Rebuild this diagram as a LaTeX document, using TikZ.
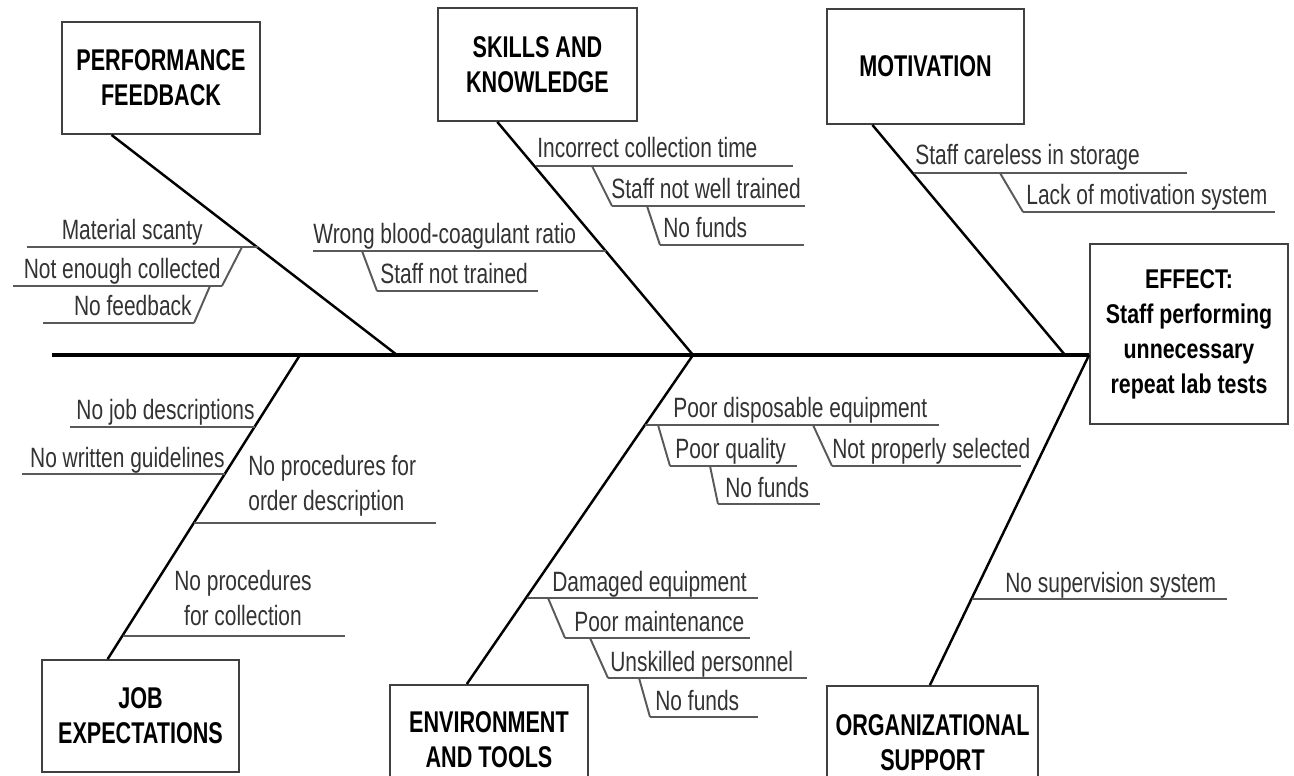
\documentclass[tikz,border=0pt]{standalone}
\usepackage{fontspec}
\setmainfont{Liberation Sans}
\newfontfamily\labfont[FakeStretch=0.75]{Liberation Sans}
\newfontfamily\boxfont[FakeStretch=0.72]{Liberation Sans}
\newfontfamily\efffont[FakeStretch=0.79]{Liberation Sans}
\usetikzlibrary{calc}
\newcommand{\twolines}[2]{\begin{tabular}[b]{@{}c@{}}#1\\#2\end{tabular}}
\tikzset{
  box/.style={draw=black!75, line width=1.1pt, align=center, inner sep=0pt,
    font=\boxfont\bfseries\fontsize{17.07pt}{19.9pt}\selectfont},
  effbox/.style={draw=black!75, line width=1.1pt, align=center, inner sep=0pt,
    font=\efffont\bfseries\fontsize{15.4pt}{19.9pt}\selectfont},
  lab/.style={font=\labfont\fontsize{15.9pt}{19.9pt}\selectfont, text=black!80, inner sep=0pt},
  sub/.style={draw=black!65, line width=1.1pt},
  bone/.style={draw=black, line width=1.4pt},
  spine/.style={draw=black, line width=1.8pt},
}
\begin{document}
\begin{tikzpicture}[x=0.02cm,y=-0.02cm]
\clip (0,0) rectangle (1294,776);
\fill[white] (0,0) rectangle (1294,776);

% boxes
\node[box, minimum width=3.96cm, minimum height=2.24cm] (pf) at (161,78) {PERFORMANCE\\FEEDBACK};
\node[box, minimum width=3.98cm, minimum height=2.26cm] (sk) at (537.5,64.5) {SKILLS AND\\KNOWLEDGE};
\node[box, minimum width=3.94cm, minimum height=2.30cm] (mot) at (925.5,66.5) {MOTIVATION};
\node[effbox, minimum width=3.96cm, minimum height=3.60cm] (eff) at (1189,334) {EFFECT:\\Staff performing\\unnecessary\\repeat lab tests};
\node[box, minimum width=3.94cm, minimum height=2.24cm] (job) at (140.5,716) {JOB\\EXPECTATIONS};
\node[box, minimum width=3.96cm, minimum height=2.20cm] (env) at (489,740) {ENVIRONMENT\\AND TOOLS};
\node[box, minimum width=4.22cm, minimum height=2.28cm] (org) at (932.5,743) {ORGANIZATIONAL\\SUPPORT};

% spine
\coordinate (tail) at (52,355);
\coordinate (head) at (tail -| eff.west);
\draw[spine] (tail) -- (head);
\coordinate (j1) at (397,355);
\coordinate (j2) at (693,355);
\coordinate (j3) at (1065,355);
\coordinate (k1) at (300,355);

% main bones
\draw[bone] ($(pf.south west)!0.2525!(pf.south east)$) -- (j1);
\draw[bone] ($(sk.south west)!0.30!(sk.south east)$) -- (j2);
\draw[bone] ($(mot.south west)!0.233!(mot.south east)$) -- (j3);
\draw[bone] (k1) -- ($(job.north west)!0.335!(job.north east)$);
\draw[bone] (j2) -- ($(env.north west)!0.389!(env.north east)$);
\draw[bone] (head) -- ($(org.north west)!0.488!(org.north east)$);

% PERFORMANCE FEEDBACK causes
\draw[sub] (27,247) -- (257.7,247);
\node[lab, anchor=base east] (t1) at (203,240) {Material scanty};
\draw[sub] (242,247) -- (222,286);
\draw[sub] (13,286) -- (222,286);
\node[lab, anchor=base east] (t2) at (221,279) {Not enough collected};
\draw[sub] (210,286) -- (194,323);
\draw[sub] (43,323) -- (194,323);
\node[lab, anchor=base east] (t3) at (192,316) {No feedback};

% SKILLS AND KNOWLEDGE causes
\draw[sub] (313,251) -- (605.5,251);
\node[lab, anchor=base west] (t4) at (313,244) {Wrong blood-coagulant ratio};
\draw[sub] (362,251) -- (377,291);
\draw[sub] (377,291) -- (538,291);
\node[lab, anchor=base west] (t5) at (380,284) {Staff not trained};
\draw[sub] (535.5,166) -- (793,166);
\node[lab, anchor=base west] (t6) at (537,158) {Incorrect collection time};
\draw[sub] (592,166) -- (612,206);
\draw[sub] (612,206) -- (805,206);
\node[lab, anchor=base west] (t7) at (611,199) {Staff not well trained};
\draw[sub] (647,206) -- (660,245);
\draw[sub] (660,245) -- (804,245);
\node[lab, anchor=base west] (t8) at (663,238) {No funds};

% MOTIVATION causes
\draw[sub] (913.7,173) -- (1187,173);
\node[lab, anchor=base west] (t9) at (915,165) {Staff careless in storage};
\draw[sub] (1000,173) -- (1023,212);
\draw[sub] (1023,212) -- (1275,212);
\node[lab, anchor=base west] (t10) at (1026,205) {Lack of motivation system};

% JOB EXPECTATIONS causes
\draw[sub] (70,427) -- (254.7,427);
\node[lab, anchor=base east] (t11) at (255,419) {No job descriptions};
\draw[sub] (22,474) -- (225.1,474);
\node[lab, anchor=base east] (t12) at (225,467) {No written guidelines};
\draw[sub] (194.2,523) -- (436,523);
\node[lab, anchor=base west] (t13) at (248,510) {\begin{tabular}[b]{@{}l@{}}No procedures for\\order description\end{tabular}};
\draw[sub] (123.1,636) -- (345,636);
\node[lab, anchor=base] (t14) at (243,625) {\twolines{No procedures}{for collection}};

% ENVIRONMENT AND TOOLS causes
\draw[sub] (645,425) -- (939,425);
\node[lab, anchor=base west] (t15) at (673,418) {Poor disposable equipment};
\draw[sub] (658,425) -- (670,466);
\draw[sub] (670,466) -- (797,466);
\node[lab, anchor=base west] (t16) at (675,459) {Poor quality};
\draw[sub] (710,466) -- (718,504);
\draw[sub] (718,504) -- (820,504);
\node[lab, anchor=base west] (t17) at (725,497) {No funds};
\draw[sub] (813,425) -- (832,466);
\draw[sub] (832,466) -- (1021,466);
\node[lab, anchor=base west] (t18) at (832,459) {Not properly selected};
\draw[sub] (526.5,598) -- (758,598);
\node[lab, anchor=base west] (t19) at (552,591) {Damaged equipment};
\draw[sub] (548,598) -- (565,638);
\draw[sub] (565,638) -- (750,638);
\node[lab, anchor=base west] (t20) at (574,631) {Poor maintenance};
\draw[sub] (590,638) -- (608,678);
\draw[sub] (608,678) -- (807,678);
\node[lab, anchor=base west] (t21) at (610,671) {Unskilled personnel};
\draw[sub] (639,678) -- (650,717);
\draw[sub] (650,717) -- (758,717);
\node[lab, anchor=base west] (t22) at (655,710) {No funds};

% ORGANIZATIONAL SUPPORT causes
\draw[sub] (972,599) -- (1227,599);
\node[lab, anchor=base west] (t23) at (1005,592) {No supervision system};
\end{tikzpicture}
\end{document}
